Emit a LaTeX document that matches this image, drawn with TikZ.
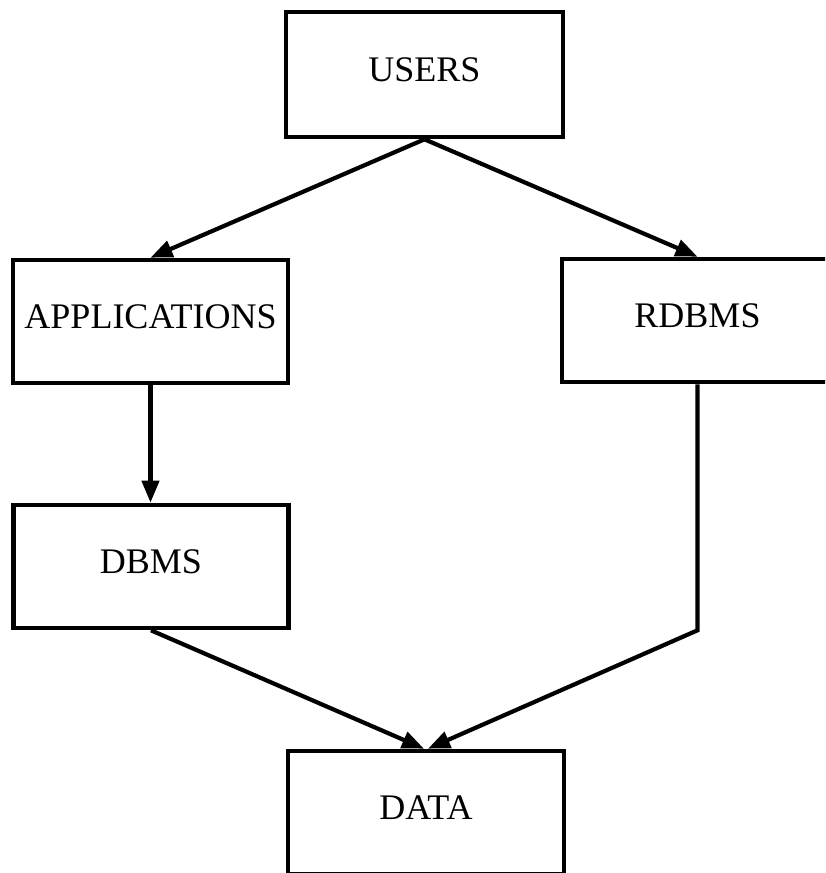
\documentclass[tikz,border=0pt]{standalone}
\usepackage{fontspec}
\setmainfont{Liberation Serif}
\usetikzlibrary{arrows.meta}
\begin{document}
\begin{tikzpicture}[x=1pt,y=-1pt,
  box/.style={draw=black, line width=4.6pt, rectangle, fill=white,
    minimum width=275pt, minimum height=123pt, inner sep=0pt,
    font=\fontsize{36}{40}\selectfont, text depth=10pt},
  flow/.style={line width=4.2pt, line join=miter,
    -{Triangle[length=22pt,width=17pt]}}]
  \useasboundingbox (0,0) rectangle (825,873);
  \clip (0,0) rectangle (825,873);

  % boxes
  \node[box, minimum width=277pt, minimum height=125pt] (users) at (424.5,74.5) {USERS};
  \node[box] (apps)  at (150.5,321.5) {APPLICATIONS};
  \node[box, minimum width=271pt] (rdbms) at (697.5,320.5) {RDBMS};
  \node[box] (dbms)  at (151,566.5) {DBMS};
  \node[box, minimum width=276pt] (data)  at (426,812.5) {DATA};

  % connectors
  \coordinate (bend) at (rdbms.south |- dbms.south);
  \coordinate (inL) at ([xshift=-2pt]data.north);
  \coordinate (inR) at ([xshift=2pt]data.north);
  \draw[flow] (users.south) -- (apps.north);
  \draw[flow] (users.south) -- (rdbms.north);
  \draw[flow] (apps.south) -- (apps.south |- dbms.north);
  \draw[flow] (dbms.south) -- (inL);
  \draw[flow] (rdbms.south) -- (bend) -- (inR);
\end{tikzpicture}
\end{document}
